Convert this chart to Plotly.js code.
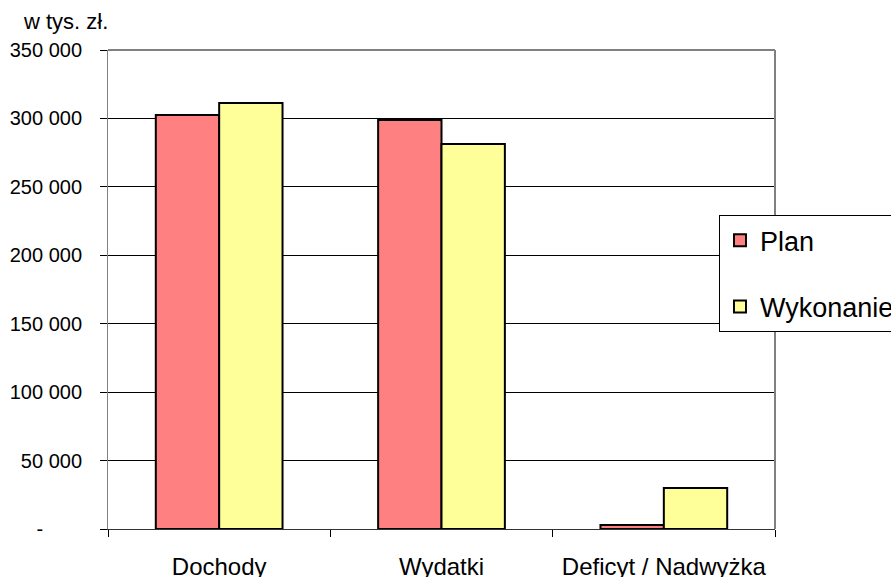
<!DOCTYPE html>
<html>
<head>
<meta charset="utf-8">
<script src="https://cdn.plot.ly/plotly-3.0.1.min.js"></script>
<style>html,body{margin:0;padding:0;background:#fff;}#chart{width:891px;height:577px;}</style>
</head>
<body>
<div id="chart"></div>
<script>
const categories = ["Dochody", "Wydatki", "Deficyt / Nadwyżka"];
const planValues = [302500, 298900, 3000];
const wykonanieValues = [311300, 281300, 30000];
const seriesNames = ["Plan", "Wykonanie"];
const tickVals = [0, 50000, 100000, 150000, 200000, 250000, 300000, 350000];
const tickText = ["-\u00a0\u00a0\u00a0\u00a0\u00a0\u00a0\u00a0", "50 000", "100 000", "150 000", "200 000", "250 000", "300 000", "350 000"];
const unitLabel = "w tys. zł.";

const FONT = "Liberation Sans, Arial, sans-serif";

const data = [
  {type: "bar", name: seriesNames[0], x: categories, y: planValues, legendgroup: "a",
   marker: {color: "#FF8080", line: {color: "#000000", width: 2}}},
  {type: "bar", name: seriesNames[1], x: categories, y: wykonanieValues, legendgroup: "b",
   marker: {color: "#FFFF99", line: {color: "#000000", width: 2}}}
];

const layout = {
  width: 891, height: 577,
  margin: {l: 108, r: 116, t: 50, b: 48, pad: 0, autoexpand: false},
  paper_bgcolor: "#ffffff", plot_bgcolor: "#ffffff",
  font: {family: FONT, color: "#000000", size: 20},
  barmode: "group", bargap: 0.43, bargroupgap: 0,
  showlegend: true,
  legend: {
    x: 0.916, y: 0.655, xanchor: "left", yanchor: "top",
    bgcolor: "#ffffff", bordercolor: "#000000", borderwidth: 1,
    font: {family: FONT, size: 27, color: "#000000"},
    tracegroupgap: 28, traceorder: "grouped"
  },
  xaxis: {
    type: "category", tickson: "boundaries", ticks: "outside", ticklen: 7, tickcolor: "#000000",
    showline: true, linecolor: "#333333", linewidth: 1, mirror: false,
    showgrid: false, tickfont: {family: FONT, size: 24, color: "#000000"},
    ticklabelstandoff: 16, fixedrange: true
  },
  yaxis: {
    range: [0, 350000], tickvals: tickVals, ticktext: tickText,
    ticks: "outside", ticklen: 7, tickcolor: "#000000",
    showline: true, linecolor: "#808080", linewidth: 1, mirror: false,
    showgrid: true, gridcolor: "#000000", gridwidth: 1, zeroline: false,
    tickfont: {family: FONT, size: 20, color: "#000000"}, ticklabelstandoff: 14,
    fixedrange: true
  },
  shapes: [
    {type: "line", xref: "paper", yref: "paper", x0: 0, x1: 1, y0: 1, y1: 1, line: {color: "#808080", width: 2}},
    {type: "line", xref: "paper", yref: "paper", x0: 1, x1: 1, y0: 0, y1: 1, line: {color: "#808080", width: 2}}
  ],
  annotations: [
    {text: unitLabel, xref: "paper", yref: "paper", x: (21 - 108) / 667, y: 1 + (50 - 21) / 479,
     xanchor: "left", yanchor: "middle", showarrow: false,
     font: {family: FONT, size: 22, color: "#000000"}}
  ]
};

Plotly.newPlot("chart", data, layout, {displayModeBar: false, staticPlot: true});
</script>
</body>
</html>
